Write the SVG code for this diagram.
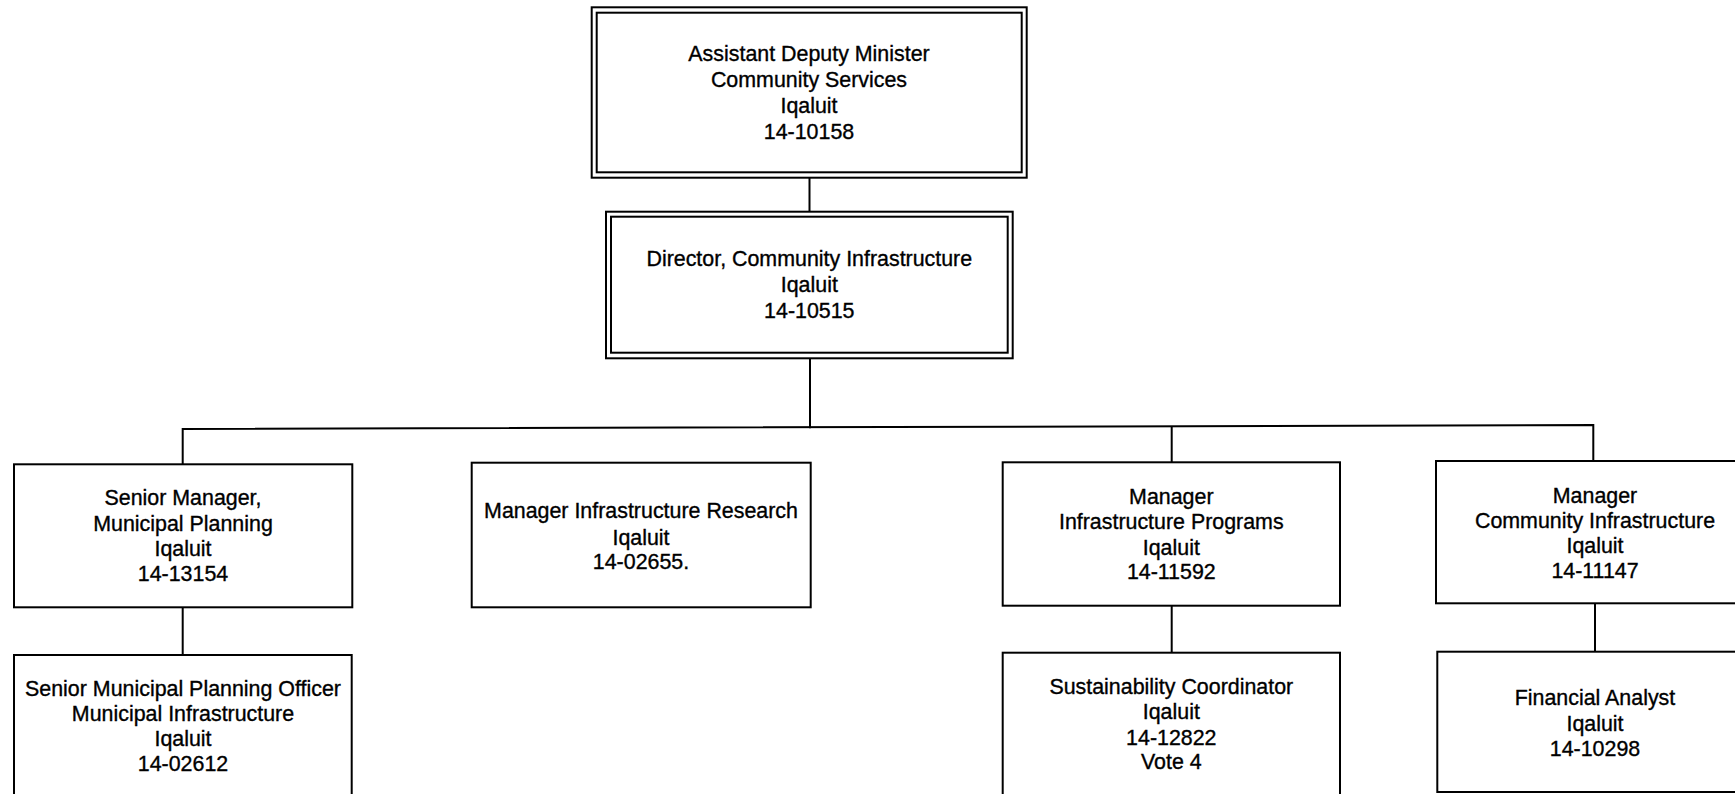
<svg xmlns="http://www.w3.org/2000/svg" width="1735" height="794" viewBox="0 0 1735 794">
<style>
.box{fill:#fff;stroke:#000;stroke-width:2}
.dbl{fill:none;stroke:#000;stroke-width:2}
.con{fill:none;stroke:#000;stroke-width:2}
text{font-family:"Liberation Sans",Arial,sans-serif;font-size:21.4px;fill:#000;stroke:#000;stroke-width:0.35;text-anchor:middle}
</style>
<rect width="1735" height="794" fill="#fff"/>
<g id="connectors">
<line class="con" x1="809.5" y1="177.7" x2="809.5" y2="211.7"/>
<line class="con" x1="810" y1="358.3" x2="810" y2="428.3"/>
<path class="con" d="M182.7,464.3 V429 L1593.3,425 V461"/>
<line class="con" x1="1171.7" y1="426.7" x2="1171.7" y2="462.3"/>
<line class="con" x1="182.7" y1="607.3" x2="182.7" y2="655"/>
<line class="con" x1="1171.7" y1="605.7" x2="1171.7" y2="652.7"/>
<line class="con" x1="1595" y1="603.3" x2="1595" y2="651.7"/>
</g>
<g id="adm">
<rect class="box" x="591.7" y="7.3" width="435" height="170.4"/>
<rect class="dbl" x="596.7" y="12.7" width="425" height="159.6"/>
<text x="809" y="61">Assistant Deputy Minister</text>
<text x="809" y="87">Community Services</text>
<text x="809" y="113">Iqaluit</text>
<text x="809" y="139">14-10158</text>
</g>
<g id="director">
<rect class="box" x="606" y="211.7" width="406.7" height="146.6"/>
<rect class="dbl" x="611" y="216.7" width="396.7" height="136"/>
<text x="809.3" y="266">Director, Community Infrastructure</text>
<text x="809.3" y="292">Iqaluit</text>
<text x="809.3" y="318">14-10515</text>
</g>
<g id="senior-manager">
<rect class="box" x="14" y="464.3" width="338.3" height="143"/>
<text x="183" y="505">Senior Manager,</text>
<text x="183" y="531">Municipal Planning</text>
<text x="183" y="556">Iqaluit</text>
<text x="183" y="581">14-13154</text>
</g>
<g id="manager-research">
<rect class="box" x="471.7" y="462.7" width="339" height="144.6"/>
<text x="641" y="517.5">Manager Infrastructure Research</text>
<text x="641" y="544.5">Iqaluit</text>
<text x="641" y="569">14-02655.</text>
</g>
<g id="manager-programs">
<rect class="box" x="1002.7" y="462.3" width="337.3" height="143.4"/>
<text x="1171.3" y="504">Manager</text>
<text x="1171.3" y="529">Infrastructure Programs</text>
<text x="1171.3" y="555">Iqaluit</text>
<text x="1171.3" y="579">14-11592</text>
</g>
<g id="manager-community">
<rect class="box" x="1436" y="461" width="330" height="142.3"/>
<text x="1595" y="502.5">Manager</text>
<text x="1595" y="527.5">Community Infrastructure</text>
<text x="1595" y="553">Iqaluit</text>
<text x="1595" y="577.5">14-11147</text>
</g>
<g id="senior-planning-officer">
<rect class="box" x="14" y="655" width="337.7" height="150"/>
<text x="183" y="696">Senior Municipal Planning Officer</text>
<text x="183" y="721">Municipal Infrastructure</text>
<text x="183" y="746">Iqaluit</text>
<text x="183" y="771">14-02612</text>
</g>
<g id="sustainability-coordinator">
<rect class="box" x="1002.7" y="652.7" width="337.3" height="150"/>
<text x="1171.3" y="694">Sustainability Coordinator</text>
<text x="1171.3" y="719">Iqaluit</text>
<text x="1171.3" y="745">14-12822</text>
<text x="1171.3" y="769">Vote 4</text>
</g>
<g id="financial-analyst">
<rect class="box" x="1437.3" y="651.7" width="330" height="140.3"/>
<text x="1595" y="705">Financial Analyst</text>
<text x="1595" y="731">Iqaluit</text>
<text x="1595" y="756">14-10298</text>
</g>
</svg>
